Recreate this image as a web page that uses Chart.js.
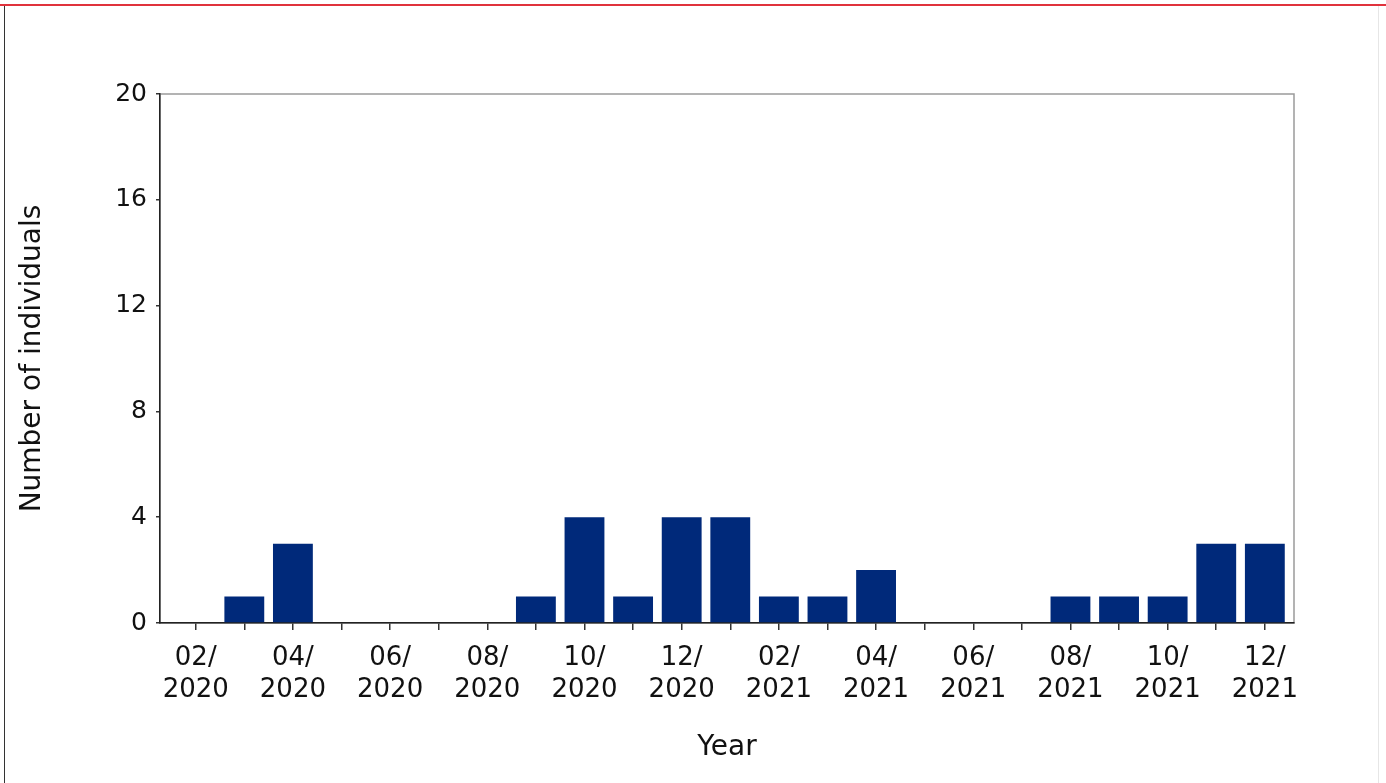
<!DOCTYPE html>
<html>
<head>
<meta charset="utf-8">
<script src="https://cdn.jsdelivr.net/npm/chart.js@4.4.1/dist/chart.umd.min.js"></script>
<style>
  html, body { margin: 0; padding: 0; background: #fff; }
  body { width: 1386px; height: 783px; overflow: hidden; position: relative; }
  .redline { position: absolute; left: 0; top: 4px; width: 1386px; height: 2px; background: #e0323c; }
  .frame { position: absolute; left: 4px; top: 6px; width: 1373px; height: 800px;
           border-left: 1px solid #333; border-right: 1px solid #e6e6e6; }
  #wrap { position: absolute; left: 0; top: 0; width: 1386px; height: 783px; }
</style>
</head>
<body>
<div class="redline"></div>
<div class="frame"></div>
<div id="wrap"><canvas id="myChart"></canvas></div>
<script>
const months = [
  '02/2020', '03/2020', '04/2020', '05/2020', '06/2020', '07/2020',
  '08/2020', '09/2020', '10/2020', '11/2020', '12/2020', '01/2021',
  '02/2021', '03/2021', '04/2021', '05/2021', '06/2021', '07/2021',
  '08/2021', '09/2021', '10/2021', '11/2021', '12/2021',
];
const individuals = [0, 1, 3, 0, 0, 0, 0, 1, 4, 1, 4, 4, 1, 1, 2, 0, 0, 0, 1, 1, 1, 3, 3];
const yTicks = [0, 4, 8, 12, 16, 20];

const FONT = 'DejaVu Sans, Verdana, sans-serif';

// grey box round the plot, the axes draw their dark lines over it
const frameBox = {
  id: 'frameBox',
  beforeDraw(chart) {
    const { ctx, chartArea: a } = chart;
    ctx.save();
    ctx.strokeStyle = '#9a9a9a';
    ctx.lineWidth = 1.5;
    ctx.strokeRect(a.left, a.top, a.right - a.left, a.bottom - a.top);
    ctx.restore();
  },
};

const charts = document.getElementById('myChart');
new Chart(charts, {
  type: 'bar',
  data: {
    datasets: [
      {
        label: 'Number of individuals',
        data: individuals.map((v, i) => ({ x: i, y: v })),
        backgroundColor: '#00297a',
        barPercentage: 0.82,
        categoryPercentage: 1,
      },
    ],
  },
  options: {
    responsive: true,
    maintainAspectRatio: false,
    animation: false,
    layout: { padding: { top: 94, right: 92, left: 0, bottom: 0 } },
    plugins: { legend: { display: false }, tooltip: { enabled: false } },
    scales: {
      x: {
        type: 'linear',
        offset: false,
        min: -0.735,
        max: 22.6,
        afterBuildTicks: (scale) => {
          scale.ticks = months.map((m, i) => ({ value: i }));
        },
        afterFit: (scale) => { scale.height = 783 - 623; },
        border: { color: '#222', width: 1.5 },
        grid: { offset: false, drawOnChartArea: false, drawTicks: true, tickLength: 7, color: '#333', lineWidth: 1.5 },
        ticks: {
          autoSkip: false,
          maxRotation: 0,
          padding: 13,
          color: '#111',
          font: { family: FONT, size: 26, lineHeight: 1.2 },
          callback: (value) => {
            const i = Math.round(value);
            if (i % 2 !== 0 || !months[i]) return '';
            const [m, y] = months[i].split('/');
            return [m + '/', y];
          },
        },
        title: {
          display: true,
          text: 'Year',
          color: '#111',
          font: { family: FONT, size: 28, lineHeight: 1.2 },
          padding: { top: 0, bottom: 18 },
        },
      },
      y: {
        min: 0,
        max: 20,
        afterBuildTicks: (scale) => {
          scale.ticks = yTicks.map((v) => ({ value: v }));
        },
        afterFit: (scale) => { scale.width = 160; },
        border: { color: '#222', width: 1.5 },
        grid: { drawOnChartArea: false, drawTicks: true, tickLength: 4, color: '#333', lineWidth: 1.5 },
        ticks: {
          padding: 9,
          color: '#111',
          font: { family: FONT, size: 25 },
        },
        title: {
          display: true,
          text: 'Number of individuals',
          color: '#111',
          font: { family: FONT, size: 28, lineHeight: 1.2 },
          padding: { top: 16, bottom: 0 },
        },
      },
    },
  },
  plugins: [frameBox],
});
</script>
</body>
</html>
